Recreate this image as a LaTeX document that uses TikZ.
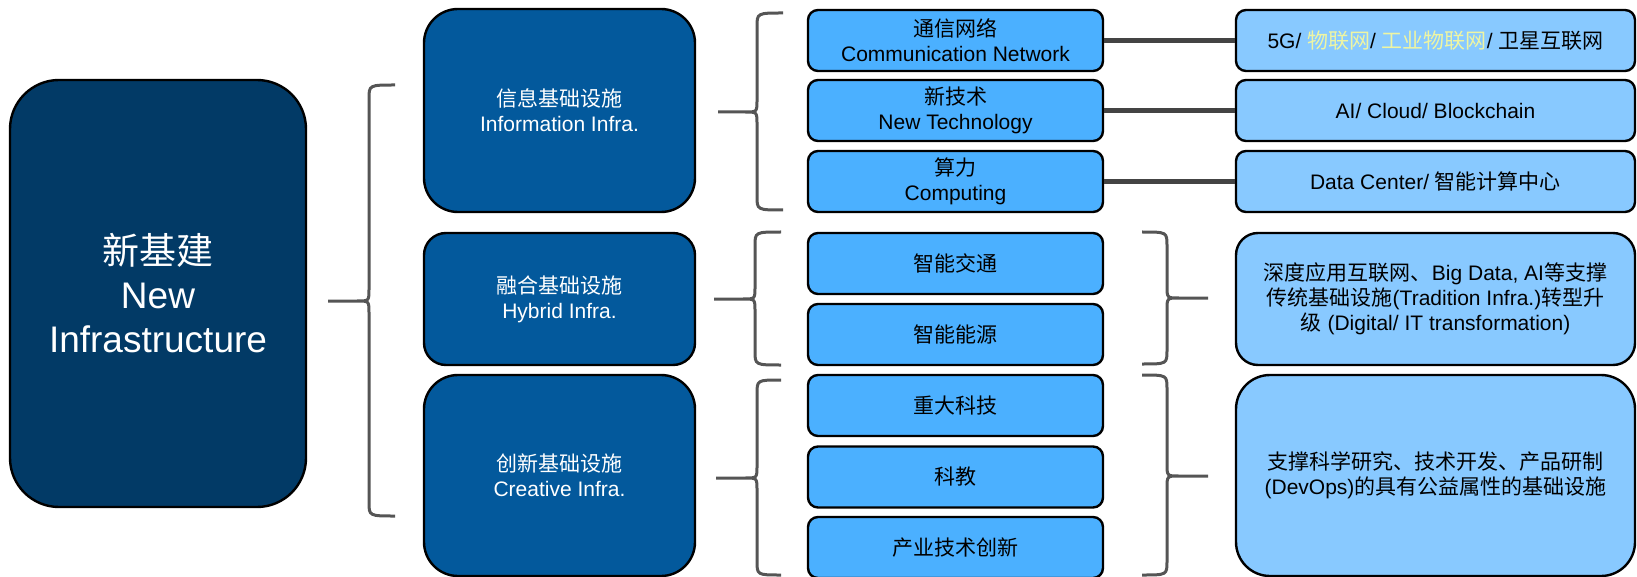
\documentclass[tikz,border=0pt]{standalone}
\usepackage{fontspec}
\setmainfont{Liberation Sans}
\newfontfamily\zh{Noto Sans CJK SC}
\usetikzlibrary{calc}

\definecolor{navy}{HTML}{023A66}
\definecolor{infra}{HTML}{03599C}
\definecolor{item}{HTML}{4BB0FF}
\definecolor{detail}{HTML}{88C9FF}
\definecolor{hilite}{HTML}{EEF5A3}
\definecolor{bracegray}{HTML}{555555}
\definecolor{linkgray}{HTML}{444444}

\begin{document}
\begin{tikzpicture}[x=0.5pt,y=-0.5pt,
        box/.style={draw=black,line width=1.2pt,inner sep=0pt,align=center,
            font=\fontsize{10.5}{12.5}\selectfont},
        topbox/.style={box,fill=navy,text=white,font=\fontsize{18.5}{22}\selectfont},
        infrabox/.style={box,fill=infra,text=white,minimum width=135.5pt},
        itembox/.style={box,fill=item,minimum width=147.5pt,minimum height=30.5pt,rounded corners=5pt},
        detailbox/.style={box,fill=detail,minimum width=199.5pt},
        brace line/.style={draw=bracegray,line width=1.5pt},
        link/.style={draw=linkgray,line width=2.5pt}]
    \useasboundingbox (0,0) rectangle (1637,577);
    % the root box
    \node[topbox,minimum width=148pt,minimum height=213.5pt,rounded corners=24.5pt] (newinfra)
        at (158,293.5) {{\zh 新基建}\\New\\Infrastructure};
    % the three kinds of infrastructure
    \foreach \n/\cy/\h/\r/\zhtxt/\entxt in {info/110.5/101.5/17/信息基础设施/Information Infra.,
            hybrid/299/66/11/融合基础设施/Hybrid Infra.,creative/475.5/100.5/17/创新基础设施/Creative Infra.}
        \node[infrabox,minimum height=\h pt,rounded corners=\r pt] (\n) at (559.5,\cy) {{\zh \zhtxt}\\\entxt};
    % the items of each kind
    \node[itembox] (network) at (955.5,40.5) {{\zh 通信网络}\\Communication Network};
    \node[itembox] (newtech) at (955.5,110.5) {{\zh 新技术}\\New Technology};
    \node[itembox] (computing) at (955.5,181.5) {{\zh 算力}\\Computing};
    \foreach \n/\cy/\txt in {traffic/263.5/智能交通,energy/334.5/智能能源,bigsci/405.5/重大科技,
            sciedu/477/科教,industry/547.5/产业技术创新}
        \node[itembox] (\n) at (955.5,\cy) {\zh \txt};
    % the details on the right
    \node[detailbox,minimum height=30.5pt,rounded corners=5pt] (fiveg) at (1435.5,40.5)
        {5G/ {\zh\color{hilite}物联网}/ {\zh\color{hilite}工业物联网}/ {\zh 卫星互联网}};
    \node[detailbox,minimum height=30.5pt,rounded corners=5pt] (aicloud) at (1435.5,110.5)
        {AI/ Cloud/ Blockchain};
    \node[detailbox,minimum height=30.5pt,rounded corners=5pt] (datacenter) at (1435.5,181.5)
        {Data Center/ {\zh 智能计算中心}};
    \node[detailbox,minimum height=66pt,rounded corners=11pt] (upgrade) at (1435.5,299)
        {{\zh 深度应用互联网、}Big Data, AI{\zh 等支撑}\\
         {\zh 传统基础设施}(Tradition Infra.){\zh 转型升}\\
         {\zh 级} (Digital/ IT transformation)};
    \node[detailbox,minimum height=100.5pt,rounded corners=17pt] (public) at (1435.5,475.5)
        {{\zh 支撑科学研究、技术开发、产品研制}\\
         (DevOps){\zh 的具有公益属性的基础设施}};
    % links
    \foreach \a/\b in {network/fiveg,newtech/aicloud,computing/datacenter}
        \draw[link] (\a.east) -- (\b.west);
    % curly braces
    \foreach \s/\xt/\xv/\xe/\yt/\ym/\yb in {-1/328/369/395/85/301/516,
            -1/718/757/783/13/112/210,-1/714/755/781/232/299/365,-1/716/757/781/380/478/575,
            1/1208/1167/1142/232/298/364,1/1208/1167/1142/375/476/575}
        \draw[brace line] (\xe,\yt) .. controls (\xv,\yt) .. (\xv,\yt+14) -- (\xv,\ym-12)
            .. controls (\xv,\ym) .. (\s*12+\xv,\ym) -- (\xt,\ym)
            (\s*12+\xv,\ym) .. controls (\xv,\ym) .. (\xv,\ym+12) -- (\xv,\yb-14)
            .. controls (\xv,\yb) .. (\xe,\yb);
\end{tikzpicture}
\end{document}
